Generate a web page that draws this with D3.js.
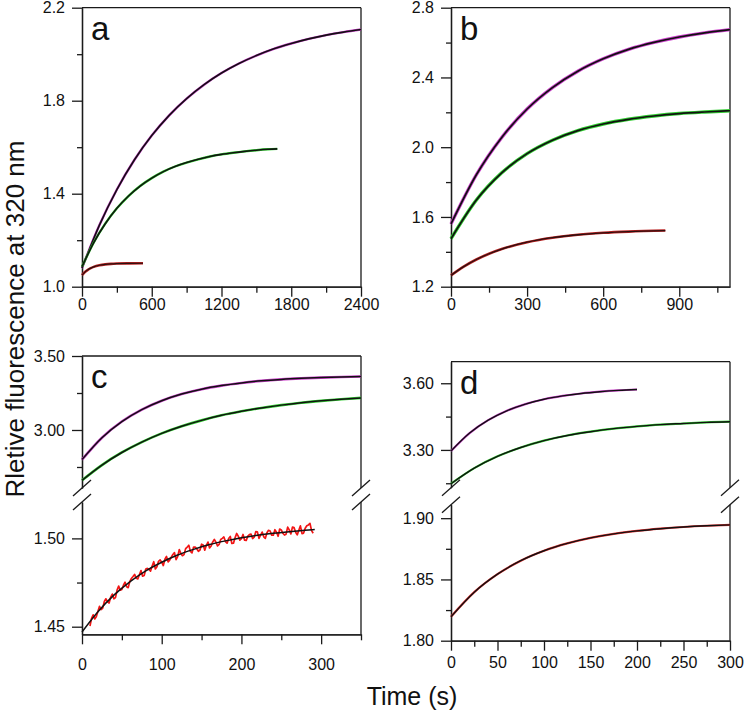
<!DOCTYPE html>
<html>
<head>
<meta charset="utf-8">
<script src="https://cdn.jsdelivr.net/npm/d3@7"></script>
<style>
  body { margin: 0; background: #fff; }
  text { font-family: Arial, "Liberation Sans", sans-serif; fill: #111; }
</style>
</head>
<body>
<div id="chart"></div>
<script>
// ---- panel a ----
const aPurpleT = [0,150,300,450,600,750,900,1050,1200,1350,1500,1650,1800,1950,2100,2250,2400];
const aPurpleY = [1.080,1.265,1.418,1.545,1.650,1.737,1.809,1.869,1.919,1.960,1.994,2.023,2.046,2.066,2.082,2.095,2.106];
const aGreenT = [0,100,200,300,400,500,600,700,800,900,1000,1100,1200,1300,1400,1500,1600,1680];
const aGreenY = [1.086,1.189,1.271,1.337,1.390,1.433,1.467,1.495,1.517,1.534,1.548,1.560,1.569,1.576,1.582,1.587,1.591,1.593];
const aRedT = [0,25,50,75,100,150,200,250,300,400,525];
const aRedY = [1.050,1.0629,1.0726,1.0798,1.0852,1.0922,1.0961,1.0983,1.0995,1.1005,1.1009];

// ---- panel b ----
const bPurpleT = [0,100,200,300,400,500,600,700,800,900,1000,1100];
const bPurpleY = [1.560,1.842,2.056,2.219,2.342,2.436,2.507,2.561,2.601,2.632,2.656,2.674];
const bGreenT = [0,100,200,300,400,500,600,700,800,900,1000,1100];
const bGreenY = [1.475,1.697,1.853,1.963,2.040,2.095,2.133,2.160,2.179,2.193,2.202,2.209];
const bRedT = [0,50,100,150,200,300,400,500,600,700,845];
const bRedY = [1.265,1.315,1.356,1.389,1.416,1.455,1.481,1.498,1.509,1.516,1.522];

// ---- panel c ----
const cPurpleT = [0,25,50,75,100,125,150,175,200,225,250,275,300,325,350];
const cPurpleY = [2.800,2.948,3.057,3.138,3.198,3.243,3.276,3.300,3.318,3.332,3.342,3.349,3.354,3.358,3.361];
const cGreenT = [0,25,50,75,100,125,150,175,200,225,250,275,300,325,350];
const cGreenY = [2.660,2.763,2.848,2.918,2.977,3.025,3.065,3.099,3.126,3.149,3.168,3.184,3.197,3.208,3.217];
const cRedFitT = [0,20,40,60,80,100,120,140,160,180,200,220,240,260,280,292];
const cRedFitY = [1.4470,1.4585,1.4679,1.4754,1.4816,1.4865,1.4906,1.4938,1.4965,1.4986,1.5004,1.5018,1.5029,1.5038,1.5046,1.5050];
const cRedDataT = [10,12,14,16,18,20,22,24,26,28,30,32,34,36,38,40,42,44,46,48,50,52,54,56,58,60,62,64,66,68,70,72,74,76,78,80,82,84,86,88,90,92,94,96,98,100,
    102,104,106,108,110,112,114,116,118,120,122,124,126,128,130,132,134,136,138,140,142,144,146,148,150,152,154,156,158,160,162,164,166,168,170,172,174,176,178,180,182,184,186,188,190,192,194,196,198,200,
    202,204,206,208,210,212,214,216,218,220,222,224,226,228,230,232,234,236,238,240,242,244,246,248,250,252,254,256,258,260,262,264,266,268,270,272,274,276,278,280,282,284,286,288,290];
const cRedDataY = [1.4504,1.4547,1.4567,1.4544,1.4558,1.4588,1.4615,1.4597,1.4605,1.4643,1.4658,1.4642,1.4634,1.4668,1.4685,1.4658,1.4665,1.4707,1.4730,1.4707,1.4711,1.4735,1.4752,1.4726,1.4721,1.4757,1.4773,1.4784,1.4796,1.4774,1.4771,1.4794,1.4818,1.4786,1.4790,1.4827,1.4830,1.4824,1.4815,1.4844,1.4868,1.4827,1.4839,1.4870,1.4878,1.4865,
    1.4846,1.4882,1.4898,1.4867,1.4877,1.4894,1.4909,1.4919,1.4880,1.4897,1.4936,1.4915,1.4902,1.4908,1.4942,1.4951,1.4961,1.4926,1.4918,1.4951,1.4951,1.4941,1.4927,1.4934,1.4967,1.4963,1.4933,1.4961,1.4979,1.4946,1.4957,1.4980,1.4994,1.4979,1.4957,1.4966,1.4994,1.5000,1.5008,1.4982,1.4973,1.4999,1.5011,1.4971,1.4973,1.5003,1.5028,1.5013,1.4990,1.4999,
    1.5022,1.4990,1.4988,1.5013,1.5021,1.5024,1.4999,1.5007,1.5038,1.5037,1.5000,1.5018,1.5036,1.5009,1.5000,1.5032,1.5046,1.5042,1.5018,1.5018,1.5049,1.5035,1.5012,1.5053,1.5048,1.5029,1.5019,1.5024,1.5064,1.5048,1.5025,1.5064,1.5061,1.5035,1.5020,1.5046,1.5071,1.5027,1.5030,1.5058,1.5071,1.5076,1.5085,1.5044,1.5029];

// ---- panel d ----
const dPurpleT = [0,20,40,60,80,100,120,140,160,180,200];
const dPurpleY = [3.295,3.376,3.434,3.476,3.506,3.528,3.543,3.554,3.562,3.568,3.572];
const dGreenT = [0,25,50,75,100,125,150,175,200,225,250,275,300];
const dGreenY = [3.148,3.218,3.271,3.311,3.342,3.365,3.382,3.396,3.406,3.414,3.419,3.424,3.427];
const dRedT = [0,25,50,75,100,125,150,175,200,225,250,275,300];
const dRedY = [1.8196,1.8396,1.8543,1.8653,1.8734,1.8794,1.8839,1.8872,1.8896,1.8914,1.8928,1.8938,1.8945];

// tick values
const aXTicks = [0,600,1200,1800,2400], aXMinor = [300,900,1500,2100];
const aYTicks = [1.0,1.4,1.8,2.2], aYMinor = [1.2,1.6,2.0];
const bXTicks = [0,300,600,900], bXMinor = [150,450,750,1050];
const bYTicks = [1.2,1.6,2.0,2.4,2.8], bYMinor = [1.4,1.8,2.2,2.6];
const cXTicks = [0,100,200,300], cXMinor = [50,150,250,350];
const cYTicksUp = [3.00,3.50], cYMinorUp = [2.75,3.25];
const cYTicksLo = [1.45,1.50], cYMinorLo = [1.475];
const dXTicks = [0,50,100,150,200,250,300], dXMinor = [25,75,125,175,225,275];
const dYTicksUp = [3.30,3.60], dYMinorUp = [3.15,3.45];
const dYTicksLo = [1.80,1.85,1.90], dYMinorLo = [1.825,1.875];

const PURPLE = "#cc3fcc", GREEN = "#2fcc2f", DKRED = "#b82020", RED = "#f21515";

const svg = d3.select("#chart").append("svg")
    .attr("width", 745)
    .attr("height", 712);

function zip(t, v) { return t.map((d, i) => [d, v[i]]); }

function drawPanel(p) {
    const g = svg.append("g").attr("transform", `translate(${p.left}, ${p.top})`);
    const x = d3.scaleLinear().domain(p.xDomain).range([0, p.w]);

    // y segments (more than one = broken axis)
    p.segs.forEach(s => {
        s.y = d3.scaleLinear().domain(s.domain).range([s.y1, s.y0]);
        g.append("g")
            .attr("class", "axis")
            .call(d3.axisLeft(s.y).tickValues(s.minor).tickSize(5).tickSizeOuter(0).tickFormat(""));
        g.append("g")
            .attr("class", "axis")
            .call(d3.axisLeft(s.y).tickValues(s.ticks).tickSize(10).tickSizeOuter(0).tickPadding(7)
                .tickFormat(d3.format(p.yFmt)));
        // right border piece
        g.append("line").attr("class", "frame")
            .attr("x1", p.w).attr("x2", p.w).attr("y1", s.y0).attr("y2", s.y1);
    });

    // break marks at segment ends
    for (let i = 0; i < p.segs.length - 1; i++) {
        const marks = [p.segs[i].y1, p.segs[i + 1].y0];
        [0, p.w].forEach(xx => {
            marks.forEach(yy => {
                g.append("line").attr("class", "frame")
                    .attr("x1", xx - 9).attr("y1", yy + 8)
                    .attr("x2", xx + 9).attr("y2", yy - 8);
            });
        });
    }

    // top border
    g.append("line").attr("class", "frame")
        .attr("x1", 0).attr("x2", p.w).attr("y1", 0).attr("y2", 0);

    // x axis
    g.append("g")
        .attr("class", "axis")
        .attr("transform", `translate(0, ${p.h})`)
        .call(d3.axisBottom(x).tickValues(p.xMinor).tickSize(6).tickSizeOuter(0).tickFormat(""));
    g.append("g")
        .attr("class", "axis")
        .attr("transform", `translate(0, ${p.h})`)
        .call(d3.axisBottom(x).tickValues(p.xTicks).tickSize(10).tickSizeOuter(0).tickPadding(p.xPad)
            .tickFormat(d3.format("d")));

    // curves: coloured trace underneath, black fit on top
    p.series.forEach(sr => {
        const s = p.segs[sr.seg];
        const line = d3.line().x(d => x(d[0])).y(d => s.y(d[1]))
            .curve(sr.noisy ? d3.curveLinear : d3.curveMonotoneX);
        g.append("path")
            .datum(zip(sr.t, sr.v))
            .attr("fill", "none")
            .attr("stroke", sr.color)
            .attr("stroke-width", sr.width)
            .attr("stroke-linejoin", "round")
            .attr("d", line);
    });

    g.append("text")
        .attr("x", 9)
        .attr("y", 32)
        .attr("font-size", "33px")
        .text(p.label);

    g.selectAll(".axis path, .axis line, .frame")
        .attr("stroke", "#1a1a1a")
        .attr("stroke-width", 1.3);
    g.selectAll(".axis text")
        .attr("font-size", "16px")
        .attr("fill", "#1a1a1a");
}

drawPanel({
    label: "a", left: 82, top: 7.7, w: 279, h: 279, xPad: 2,
    xDomain: [0, 2400], xTicks: aXTicks, xMinor: aXMinor, yFmt: ".1f",
    segs: [{domain: [1.0, 2.2], y0: 0, y1: 279, ticks: aYTicks, minor: aYMinor}],
    series: [
        {t: aPurpleT, v: aPurpleY, color: PURPLE, width: 2.4, seg: 0},
        {t: aPurpleT, v: aPurpleY, color: "#141014", width: 1.6, seg: 0},
        {t: aGreenT, v: aGreenY, color: GREEN, width: 2.4, seg: 0},
        {t: aGreenT, v: aGreenY, color: "#101410", width: 1.6, seg: 0},
        {t: aRedT, v: aRedY, color: DKRED, width: 2.6, seg: 0},
        {t: aRedT, v: aRedY, color: "#2a1010", width: 1.2, seg: 0}
    ]
});

drawPanel({
    label: "b", left: 451, top: 7.7, w: 279, h: 279, xPad: 2,
    xDomain: [0, 1100], xTicks: bXTicks, xMinor: bXMinor, yFmt: ".1f",
    segs: [{domain: [1.2, 2.8], y0: 0, y1: 279, ticks: bYTicks, minor: bYMinor}],
    series: [
        {t: bPurpleT, v: bPurpleY, color: PURPLE, width: 3.4, seg: 0},
        {t: bPurpleT, v: bPurpleY, color: "#111", width: 1.7, seg: 0},
        {t: bGreenT, v: bGreenY, color: GREEN, width: 3.4, seg: 0},
        {t: bGreenT, v: bGreenY, color: "#111", width: 1.7, seg: 0},
        {t: bRedT, v: bRedY, color: DKRED, width: 2.6, seg: 0},
        {t: bRedT, v: bRedY, color: "#2a1010", width: 1.3, seg: 0}
    ]
});

drawPanel({
    label: "c", left: 82, top: 356, w: 279, h: 278.3, xPad: 14,
    xDomain: [0, 350], xTicks: cXTicks, xMinor: cXMinor, yFmt: ".2f",
    segs: [
        {domain: [2.608, 3.50], y0: 0, y1: 132, ticks: cYTicksUp, minor: cYMinorUp},
        {domain: [1.4457, 1.5206], y0: 146, y1: 278.3, ticks: cYTicksLo, minor: cYMinorLo}
    ],
    series: [
        {t: cPurpleT, v: cPurpleY, color: PURPLE, width: 2.6, seg: 0},
        {t: cPurpleT, v: cPurpleY, color: "#111", width: 1.5, seg: 0},
        {t: cGreenT, v: cGreenY, color: GREEN, width: 2.6, seg: 0},
        {t: cGreenT, v: cGreenY, color: "#111", width: 1.5, seg: 0},
        {t: cRedDataT, v: cRedDataY, color: RED, width: 1.7, seg: 1, noisy: true},
        {t: cRedFitT, v: cRedFitY, color: "#111", width: 1.5, seg: 1}
    ]
});

drawPanel({
    label: "d", left: 451, top: 361.7, w: 279, h: 279, xPad: 6,
    xDomain: [0, 300], xTicks: dXTicks, xMinor: dXMinor, yFmt: ".2f",
    segs: [
        {domain: [3.130, 3.697], y0: 0, y1: 126, ticks: dYTicksUp, minor: dYMinorUp},
        {domain: [1.80, 1.911], y0: 143, y1: 279, ticks: dYTicksLo, minor: dYMinorLo}
    ],
    series: [
        {t: dPurpleT, v: dPurpleY, color: PURPLE, width: 2.2, seg: 0},
        {t: dPurpleT, v: dPurpleY, color: "#111", width: 1.4, seg: 0},
        {t: dGreenT, v: dGreenY, color: GREEN, width: 2.2, seg: 0},
        {t: dGreenT, v: dGreenY, color: "#111", width: 1.4, seg: 0},
        {t: dRedT, v: dRedY, color: "#e03030", width: 2.2, seg: 1},
        {t: dRedT, v: dRedY, color: "#111", width: 1.4, seg: 1}
    ]
});

// axis titles
svg.append("text")
    .attr("transform", "translate(24, 319) rotate(-90)")
    .attr("text-anchor", "middle")
    .attr("font-size", "26px")
    .text("Rletive fluorescence at 320 nm");

svg.append("text")
    .attr("x", 412)
    .attr("y", 705)
    .attr("text-anchor", "middle")
    .attr("font-size", "25px")
    .text("Time (s)");
</script>
</body>
</html>
